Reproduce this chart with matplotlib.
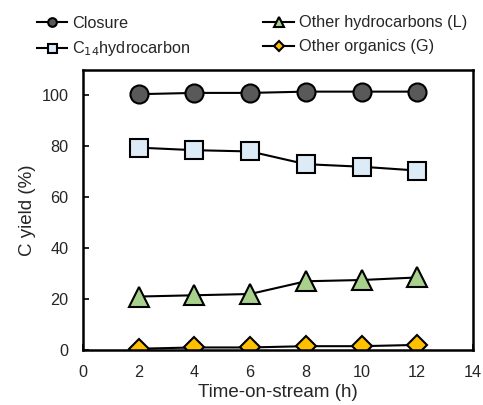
import matplotlib
matplotlib.use("Agg")
import matplotlib.pyplot as plt

plt.rcParams['font.family'] = ['Liberation Sans', 'DejaVu Sans']

time_h = [2, 4, 6, 8, 10, 12]
closure = [100.5, 101.0, 101.0, 101.5, 101.5, 101.5]
c14 = [79.5, 78.5, 78.0, 73.0, 72.0, 70.5]
other_hc_L = [21.0, 21.5, 22.0, 27.0, 27.5, 28.5]
other_org_G = [0.5, 1.0, 1.0, 1.5, 1.5, 2.0]
x_ticks = [0, 2, 4, 6, 8, 10, 12, 14]
y_ticks = [0, 20, 40, 60, 80, 100]

fig = plt.figure(figsize=(4.83, 4.05), dpi=100)
ax = fig.add_axes([83/483, 1-350/405, 390/483, 280/405])

common = dict(color='black', linewidth=1.5, markeredgecolor='black', markeredgewidth=1.5)
l1, = ax.plot(time_h, closure, marker='o', markersize=13, markerfacecolor='#595959', label='Closure', **common)
l3, = ax.plot(time_h, other_hc_L, marker='^', markersize=15, markerfacecolor='#A9D18E', label='Other hydrocarbons (L)', **common)
l2, = ax.plot(time_h, c14, marker='s', markersize=13.5, markerfacecolor='#DDEBF7', label='C$_{14}$hydrocarbon', **common)
l4, = ax.plot(time_h, other_org_G, marker='D', markersize=10.5, markerfacecolor='#FFC000', label='Other organics (G)', **common)

ax.set_xlim(0, 14)
ax.set_ylim(0, 110)
ax.set_xticks(x_ticks)
ax.set_yticks(y_ticks)
ax.tick_params(direction='in', length=4, width=1.2, labelsize=11.7, labelcolor='#262626', pad=10.5)
for s in ax.spines.values():
    s.set_linewidth(1.8)
    s.set_color('black')
ax.set_xlabel('Time-on-stream (h)', fontsize=13.5, color='#262626', labelpad=3)
ax.set_ylabel('C yield (%)', fontsize=13.5, color='#262626', labelpad=4)

leg = fig.legend(handles=[l1, l2, l3, l4], loc='upper left', bbox_to_anchor=(30/483, 1-9/405),
                 ncol=2, frameon=False, fontsize=11.7, handlelength=1.9, columnspacing=4.5,
                 handletextpad=0.3, labelspacing=0.55, markerscale=0.48, borderaxespad=0)
for t in leg.get_texts():
    t.set_color('#262626')

fig.savefig('out.png', dpi=100)
